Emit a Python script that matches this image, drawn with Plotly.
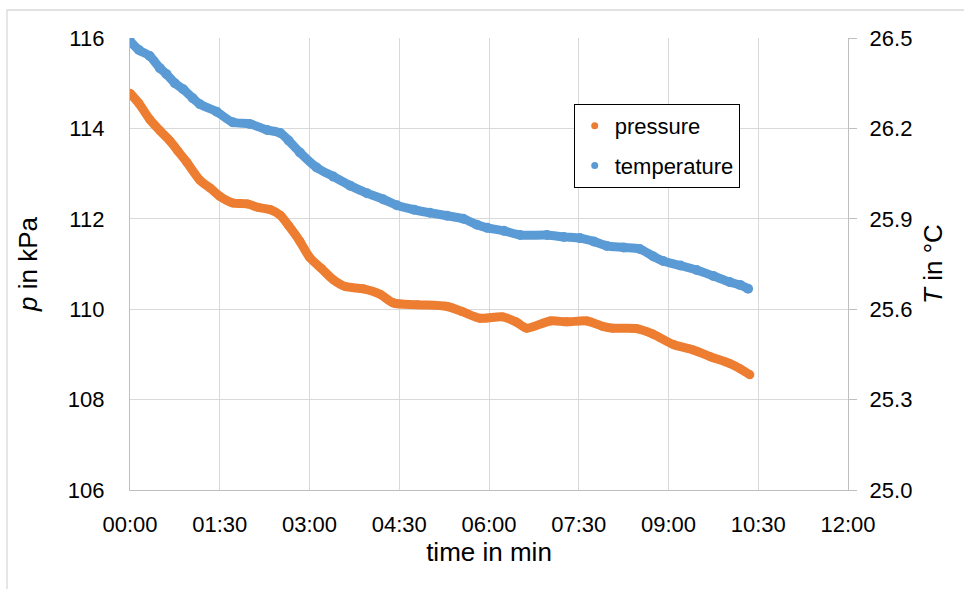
import plotly.graph_objects as go

# time in minutes
p_time = [0, 0.15, 0.33, 0.5, 0.67, 0.8, 0.95, 1.17, 1.34, 1.5, 1.72, 1.96, 2.15, 2.35,
          2.51, 2.65, 2.84, 3.0, 3.2, 3.4, 3.6, 3.9, 4.18, 4.4, 4.8, 5.3, 5.55, 5.85,
          6.23, 6.45, 6.63, 7.02, 7.3, 7.64, 7.9, 8.07, 8.47, 8.74, 9.08, 9.41, 9.7,
          10.02, 10.2, 10.36]
pressure = [114.78, 114.55, 114.2, 113.95, 113.72, 113.5, 113.25, 112.85, 112.68, 112.5,
            112.35, 112.33, 112.25, 112.2, 112.08, 111.85, 111.5, 111.15, 110.9, 110.65,
            110.5, 110.45, 110.33, 110.14, 110.1, 110.06, 109.95, 109.8, 109.83, 109.72,
            109.58, 109.74, 109.72, 109.74, 109.62, 109.58, 109.57, 109.45, 109.22, 109.1,
            108.95, 108.8, 108.68, 108.55]

t_time = [0, 0.15, 0.33, 0.5, 0.61, 0.75, 0.89, 1.05, 1.17, 1.45, 1.72, 2.0, 2.29, 2.51,
          2.65, 2.84, 3.12, 3.4, 3.68, 3.96, 4.23, 4.46, 4.75, 5.01, 5.3, 5.57, 5.8, 5.97,
          6.25, 6.52, 6.97, 7.25, 7.52, 7.75, 7.97, 8.25, 8.52, 8.75, 8.91, 9.2, 9.47,
          9.75, 10.02, 10.2, 10.33]
temperature = [26.49, 26.46, 26.44, 26.4, 26.38, 26.35, 26.33, 26.3, 26.28, 26.255, 26.22,
               26.215, 26.195, 26.185, 26.16, 26.12, 26.07, 26.04, 26.01, 25.985, 25.965,
               25.945, 25.93, 25.92, 25.91, 25.9, 25.88, 25.87, 25.86, 25.846, 25.846,
               25.84, 25.836, 25.825, 25.81, 25.805, 25.80, 25.775, 25.76, 25.745, 25.73,
               25.71, 25.69, 25.68, 25.668]

x_tickvals = [0, 1.5, 3, 4.5, 6, 7.5, 9, 10.5, 12]
x_ticktext = ["00:00", "01:30", "03:00", "04:30", "06:00", "07:30", "09:00", "10:30", "12:00"]

ORANGE = "#ED7D31"
BLUE = "#5B9BD5"
FONT = "Liberation Sans, Arial, sans-serif"

fig = go.Figure()
fig.add_trace(go.Scatter(x=p_time, y=pressure, mode="lines+markers", yaxis="y",
                         line=dict(color=ORANGE, width=9, shape="spline", smoothing=0.8),
                         marker=dict(color=ORANGE, size=9), showlegend=False))
fig.add_trace(go.Scatter(x=t_time, y=temperature, mode="lines+markers", yaxis="y2",
                         line=dict(color=BLUE, width=9, shape="spline", smoothing=0.8),
                         marker=dict(color=BLUE, size=10), showlegend=False))
# legend entries
fig.add_trace(go.Scatter(x=[None], y=[None], mode="markers", name="pressure",
                         legendgroup="a", marker=dict(color=ORANGE, size=7)))
fig.add_trace(go.Scatter(x=[None], y=[None], mode="markers", name="temperature",
                         legendgroup="b", marker=dict(color=BLUE, size=7)))

fig.update_layout(
    width=964, height=589,
    margin=dict(l=130, r=116, t=38, b=99),
    paper_bgcolor="white", plot_bgcolor="white",
    font=dict(family=FONT, size=22, color="#000000"),
    xaxis=dict(range=[0, 12], tickvals=x_tickvals, ticktext=x_ticktext,
               showgrid=True, gridcolor="#D9D9D9", gridwidth=1.3,
               showline=True, linecolor="#BFBFBF", linewidth=1.3,
               zeroline=False, ticks="", ticklabelstandoff=14,
               title=dict(text="time in min", standoff=6)),
    yaxis=dict(range=[106, 116], dtick=2, tick0=106,
               showgrid=True, gridcolor="#D9D9D9", gridwidth=1.3,
               showline=True, linecolor="#BFBFBF", linewidth=1.3,
               zeroline=False, ticks="", ticklabelstandoff=20,
               title=dict(text="<i>p</i> in kPa", standoff=22)),
    yaxis2=dict(range=[25.0, 26.5], dtick=0.3, tick0=25.0, tickformat=".1f",
                overlaying="y", side="right", showgrid=False,
                showline=True, linecolor="#BFBFBF", linewidth=1.3,
                zeroline=False, ticks="outside", ticklen=8, tickcolor="#BFBFBF",
                tickwidth=1.3, ticklabelstandoff=8,
                title=dict(text="<i>T</i> in °C", standoff=12)),
    legend=dict(x=0.618, y=0.854, xanchor="left", yanchor="top",
                bordercolor="#000000", borderwidth=1, bgcolor="white",
                traceorder="grouped", tracegroupgap=8, itemwidth=30,
                font=dict(family=FONT, size=22)),
    shapes=[dict(type="rect", xref="paper", yref="paper",
                 x0=-0.1713, x1=1.5, y0=-0.5, y1=1.0619,
                 line=dict(color="#D9D9D9", width=1.3), layer="below")],
)

fig.write_html("out.html")
